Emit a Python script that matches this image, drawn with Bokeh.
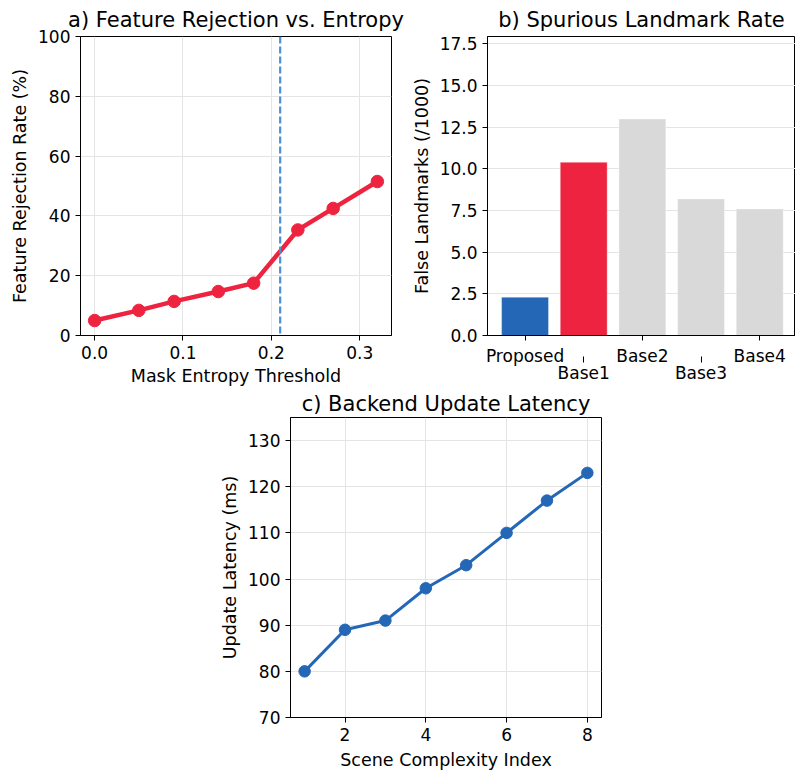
from bokeh.plotting import figure
from bokeh.layouts import column, row
from bokeh.models import Range1d, FixedTicker, LinearAxis, Span, NumeralTickFormatter
from bokeh.embed import file_html
from bokeh.resources import INLINE

# ---------------- data ----------------
entropy_thresholds = [0.0, 0.05, 0.09, 0.14, 0.18, 0.23, 0.27, 0.32]
rejection_rate = [5.0, 8.4, 11.4, 14.7, 17.5, 35.3, 42.5, 51.5]
chosen_threshold = 0.21

methods = ["Proposed", "Base1", "Base2", "Base3", "Base4"]
false_landmarks = [2.3, 10.4, 13.0, 8.2, 7.6]

complexity_index = [1, 2, 3, 4, 5, 6, 7, 8]
latency_ms = [80, 89, 91, 98, 103, 110, 117, 123]

FONT = "DejaVu Sans"
RED = "#ee233f"
BLUE = "#2467b6"
GRAY = "#d9d9d9"
GRID = "#e4e4e4"
TICK_FS = "17px"
LABEL_FS = "17.5px"
TITLE_FS = "21px"


def style(p, xlabel, ylabel):
    p.title.text_font = FONT
    p.title.text_font_size = TITLE_FS
    p.title.text_font_style = "normal"
    p.title.text_color = "black"
    p.title.align = "center"
    p.outline_line_color = "black"
    p.outline_line_width = 1
    p.background_fill_color = "white"
    p.border_fill_color = "white"
    for ax in p.axis:
        ax.axis_label_text_font = FONT
        ax.axis_label_text_font_size = LABEL_FS
        ax.axis_label_text_font_style = "normal"
        ax.axis_label_text_color = "black"
        ax.major_label_text_font = FONT
        ax.major_label_text_font_size = TICK_FS
        ax.major_label_text_color = "black"
        ax.axis_line_color = "black"
        ax.major_tick_line_color = "black"
        ax.major_tick_in = 0
        ax.major_tick_out = 5
        ax.minor_tick_line_color = None
    p.xaxis.axis_label = xlabel
    p.yaxis.axis_label = ylabel
    p.xgrid.grid_line_color = GRID
    p.ygrid.grid_line_color = GRID


# ---------------- a) ----------------
pa = figure(frame_width=311, frame_height=299, output_backend="svg", toolbar_location=None,
            title="a) Feature Rejection vs. Entropy",
            x_range=Range1d(-0.016, 0.336), y_range=Range1d(0, 100),
            min_border_left=80, min_border_right=14, min_border_top=36, min_border_bottom=50)
pa.line(entropy_thresholds, rejection_rate, line_color=RED, line_width=4.5)
pa.scatter(entropy_thresholds, rejection_rate, size=12.5, fill_color=RED, line_color=RED)
pa.add_layout(Span(location=chosen_threshold, dimension="height", line_color="#4a8fd9",
                   line_width=2.2, line_dash="7 3"))
style(pa, "Mask Entropy Threshold", "Feature Rejection Rate (%)")
pa.xaxis.axis_label_standoff = 4
pa.xaxis.ticker = FixedTicker(ticks=[0.0, 0.1, 0.2, 0.3])
pa.xaxis.formatter = NumeralTickFormatter(format="0.0")
pa.yaxis.ticker = FixedTicker(ticks=[0, 20, 40, 60, 80, 100])

# ---------------- b) ----------------
idx = list(range(len(methods)))
bar_colors = [BLUE, RED] + [GRAY] * (len(methods) - 2)
pb = figure(frame_width=308, frame_height=299, output_backend="svg", toolbar_location=None,
            title="b) Spurious Landmark Rate",
            x_range=Range1d(-0.64, 4.61), y_range=Range1d(0, 17.95),
            min_border_left=82, min_border_right=0, min_border_top=36, min_border_bottom=40)
pb.vbar(x=idx, top=false_landmarks, width=0.8, fill_color=bar_colors,
        line_color="white", line_width=0.6, line_alpha=0.6)
style(pb, "", "False Landmarks (/1000)")
pb.xaxis.axis_label = None
pb.xgrid.grid_line_color = None
even = [i for i in idx if i % 2 == 0]
odd = [i for i in idx if i % 2 == 1]
pb.xaxis.ticker = FixedTicker(ticks=even)
pb.xaxis.major_label_overrides = {i: methods[i] for i in even}
pb.yaxis.ticker = FixedTicker(ticks=[0, 2.5, 5, 7.5, 10, 12.5, 15, 17.5])
pb.yaxis.formatter = NumeralTickFormatter(format="0.0")
ax2 = LinearAxis(ticker=FixedTicker(ticks=odd),
                 major_label_overrides={i: methods[i] for i in odd})
ax2.axis_line_color = None
ax2.major_tick_line_color = "black"
ax2.major_tick_in = 12
ax2.major_tick_out = -6
ax2.minor_tick_line_color = None
ax2.major_label_text_font = FONT
ax2.major_label_text_font_size = TICK_FS
ax2.major_label_text_color = "black"
ax2.major_label_standoff = -6
pb.add_layout(ax2, "below")

# ---------------- c) ----------------
pc = figure(frame_width=311, frame_height=300, output_backend="svg", toolbar_location=None,
            title="c) Backend Update Latency",
            x_range=Range1d(0.65, 8.35), y_range=Range1d(70, 135),
            min_border_left=290, min_border_right=9, min_border_top=20, min_border_bottom=48)
pc.line(complexity_index, latency_ms, line_color=BLUE, line_width=3)
pc.scatter(complexity_index, latency_ms, size=11.5, fill_color=BLUE, line_color=BLUE)
style(pc, "Scene Complexity Index", "Update Latency (ms)")
pc.title.standoff = 3
pc.xaxis.axis_label_standoff = 6
pc.xaxis.ticker = FixedTicker(ticks=[2, 4, 6, 8])
pc.yaxis.ticker = FixedTicker(ticks=[70, 80, 90, 100, 110, 120, 130])

layout = column(row(pa, pb), pc)
open("out.html", "w").write(file_html(layout, INLINE))
